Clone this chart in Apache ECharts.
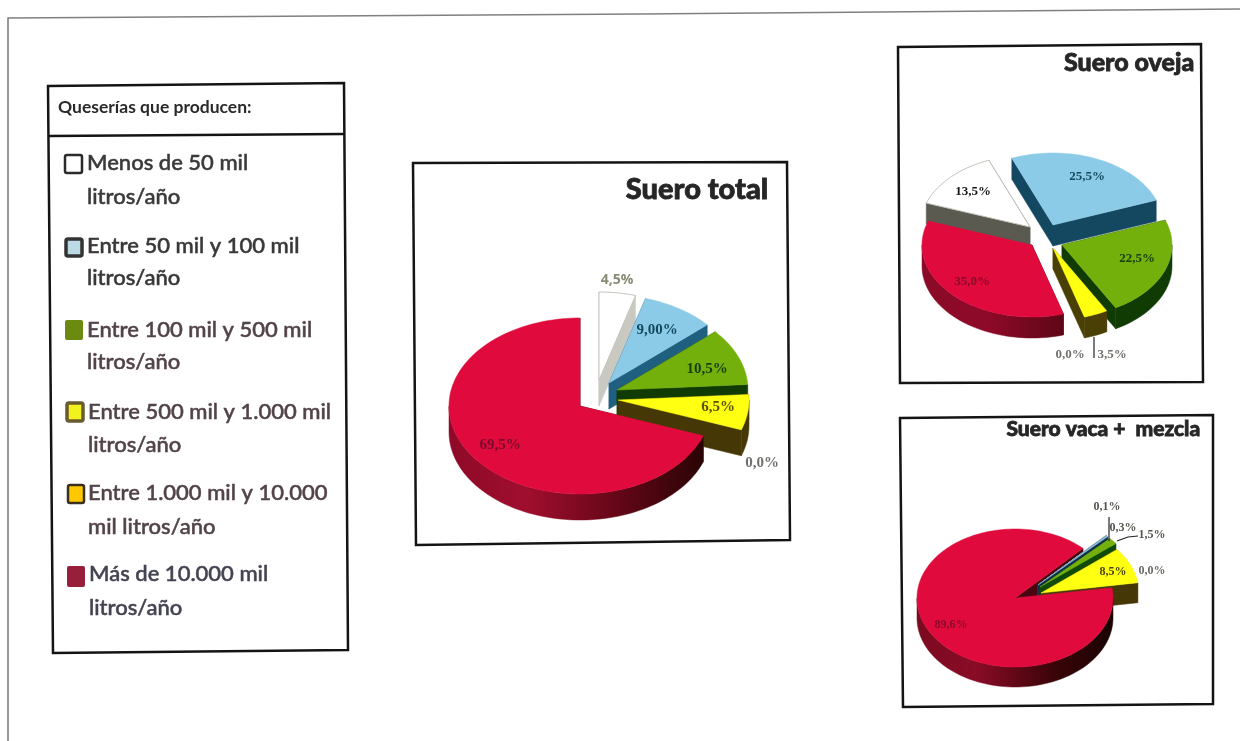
<!DOCTYPE html>
<html lang="es">
<head>
<meta charset="utf-8">
<title>Suero por tamaño de quesería</title>
<script src="https://cdn.jsdelivr.net/npm/echarts@6/dist/echarts.min.js"></script>
<style>
  html, body { margin: 0; padding: 0; background: #fff; }
  #chart { width: 1240px; height: 741px; }
</style>
</head>
<body>
<div id="chart"></div>
<script>
// Categories, in clockwise order around each pie
const categories = [
  ['Menos de 50 mil', 'litros/año'],
  ['Entre 50 mil y 100 mil', 'litros/año'],
  ['Entre 100 mil y 500 mil', 'litros/año'],
  ['Entre 500 mil y 1.000 mil', 'litros/año'],
  ['Entre 1.000 mil y 10.000', 'mil litros/año'],
  ['Más de 10.000 mil', 'litros/año']
];

// Share of whey per category (%)
const sueroTotal = [4.5, 9, 10.5, 6.5, 0, 69.5];
const sueroOveja = [13.5, 25.5, 22.5, 3.5, 0, 35];
const sueroVaca = [0.1, 0.3, 1.5, 8.5, 0, 89.6];

// Printed labels
const etiquetasTotal = ['4,5%', '9,00%', '10,5%', '6,5%', '0,0%', '69,5%'];
const etiquetasOveja = ['13,5%', '25,5%', '22,5%', '3,5%', '0,0%', '35,0%'];
const etiquetasVaca = ['0,1%', '0,3%', '1,5%', '8,5%', '0,0%', '89,6%'];

const TOP = ['#ffffff', '#8ccbe8', '#74b00c', '#ffff12', '#ffc800', '#e00a3c'];
const DEG = Math.PI / 180;

// Layout of each pie: ellipse, rim height, first slice angle, slice offsets and label placement
const pies = [
  {
    values: sueroTotal, labels: etiquetasTotal,
    cx: 580, cy: 406, rx: 131, ry: 88, depth: 26, start: 0,
    offsets: [[19, -26], [29, -23], [37, -16], [38, -6], [38, -6], [0, 0]],
    wall: ['#c9c9c2', '#1f5f80', '#103c04', '#463806', '#463806', null],
    redRim: ['#8e0a28', '#a00e2e', '#5a0614', '#240404'],
    font: 'bold 15px "Liberation Serif"',
    text: [
      { x: 617, y: 280, color: '#8a8c74', font: 'bold 14px "Open Sans"' },
      { x: 657, y: 330, color: '#134a60' },
      { x: 707, y: 369, color: '#16400a' },
      { x: 718, y: 407, color: '#5a5008' },
      { x: 762, y: 463, color: '#70706c' },
      { x: 500, y: 445, color: '#7a0a2c' }
    ],
    leaders: []
  },
  {
    values: sueroOveja, labels: etiquetasOveja,
    cx: 1032, cy: 245, rx: 110, ry: 72, depth: 21, start: -70.6,
    offsets: [[-2, -18], [21, -20], [30, 0], [21, 3], [21, 3], [0, 0]],
    wall: ['#5a5a50', '#134860', '#103c04', '#4a4006', '#4a4006', null],
    redRim: ['#8a0a28', '#8e0a28', '#560612', '#2a0404'],
    font: 'bold 13px "Liberation Serif"',
    text: [
      { x: 973, y: 192, color: '#151515' },
      { x: 1087, y: 177, color: '#134a60' },
      { x: 1137, y: 259, color: '#16400a' },
      { x: 1112, y: 355, color: '#70706c' },
      { x: 1070, y: 355, color: '#70706c' },
      { x: 972, y: 282, color: '#8a0a2c' }
    ],
    leaders: [[[1094, 337], [1094, 358]]]
  },
  {
    values: sueroVaca, labels: etiquetasVaca,
    cx: 1015, cy: 598, rx: 98, ry: 69, depth: 20, start: 44,
    offsets: [[23, -13], [23, -13], [25, -11], [26, -5], [26, -5], [0, 0]],
    wall: ['#555555', '#10304a', '#0f4a08', '#463806', '#463806', null],
    redRim: ['#7a0a20', '#8a0c26', '#3a0408', '#1a0404'],
    font: 'bold 12px "Liberation Serif"',
    text: [
      { x: 1107, y: 507, color: '#55554f' },
      { x: 1123, y: 528, color: '#55554f' },
      { x: 1152, y: 535, color: '#55554f' },
      { x: 1113, y: 572, color: '#4a4208' },
      { x: 1152, y: 571, color: '#6a6a64' },
      { x: 951, y: 625, color: '#8a0a2c' }
    ],
    leaders: [[[1109, 517], [1109, 541]], [[1117, 541], [1128, 537], [1138, 536]]]
  }
];

function arcPoints(cx, cy, rx, ry, a0, a1) {
  const pts = [];
  const n = Math.max(1, Math.ceil(Math.abs(a1 - a0) / 2));
  for (let i = 0; i <= n; i++) {
    const a = (a0 + (a1 - a0) * i / n) * DEG;
    pts.push([cx + rx * Math.sin(a), cy - ry * Math.cos(a)]);
  }
  return pts;
}

function poly(points, fill, stroke, lineWidth) {
  return {
    type: 'polygon', silent: true,
    shape: { points },
    style: { fill, stroke: stroke || fill, lineWidth: lineWidth === undefined ? 0.5 : lineWidth }
  };
}

// Drawing passes of a slice
const PASS_ALL = 0, PASS_CUTS = 1, PASS_BODY = 2;

// Builds one custom series drawing a tilted pie from its value array
function pieSeries(pie) {
  const total = pie.values.reduce((s, v) => s + v, 0);
  const largest = pie.values.indexOf(Math.max(...pie.values));
  let acc = pie.start;
  const slices = pie.values.map((v, i) => {
    const a0 = acc;
    acc += v / total * 360;
    return { i, v, a0, a1: acc };
  });
  // Small slices paint from the back towards the viewer, in between the
  // cut faces of the main body and its rim and top
  const small = slices
    .filter(s => s.v > 0 && s.i !== largest)
    .map(s => {
      const mid = (s.a0 + s.a1) / 2 * DEG;
      return { s, key: pie.offsets[s.i][1] - pie.ry * Math.cos(mid) * 0.6 };
    })
    .sort((p, q) => p.key - q.key)
    .map(p => p.s);
  const row = (s, pass) => [s.v, s.a0, s.a1, s.i, pass];

  return {
    type: 'custom',
    coordinateSystem: 'none',
    silent: true,
    animation: false,
    data: [
      row(slices[largest], PASS_CUTS),
      ...small.map(s => row(s, PASS_ALL)),
      row(slices[largest], PASS_BODY)
    ],
    renderItem(params, api) {
      const a0 = api.value(1);
      const a1 = api.value(2);
      const i = api.value(3);
      const pass = api.value(4);
      const [dx, dy] = pie.offsets[i];
      const cx = pie.cx + dx;
      const cy = pie.cy + dy;
      const { rx, ry, depth } = pie;
      const isRed = i === 5;
      const children = [];

      // Flat faces along both cuts
      if (pass !== PASS_BODY) {
        const cutFill = isRed ? '#4a0610' : pie.wall[i];
        [a0, a1].forEach(a => {
          const edge = arcPoints(cx, cy, rx, ry, a, a)[0];
          children.push(poly(
            [[cx, cy], edge, [edge[0], edge[1] + depth], [cx, cy + depth]], cutFill
          ));
        });
      }

      if (pass !== PASS_CUTS) {
        // Curved rim, only the part that faces the viewer
        const rimStops = isRed
          ? pie.redRim.map((color, k) => ({ offset: [0, 0.3, 0.7, 1][k], color }))
          : [{ offset: 0, color: pie.wall[i] }, { offset: 1, color: pie.wall[i] }];
        const rimFill = new echarts.graphic.LinearGradient(cx - rx, 0, cx + rx, 0, rimStops, true);
        for (let k = -1; k <= 1; k++) {
          const lo = Math.max(a0, 90 + 360 * k);
          const hi = Math.min(a1, 270 + 360 * k);
          if (hi > lo) {
            const upper = arcPoints(cx, cy, rx, ry, lo, hi);
            const lower = upper.map(p => [p[0], p[1] + depth]).reverse();
            children.push(poly(upper.concat(lower), rimFill));
          }
        }

        // Top face
        const outline = i === 0 ? '#c4c4bc' : TOP[i];
        children.push(poly([[cx, cy]].concat(arcPoints(cx, cy, rx, ry, a0, a1)), TOP[i], outline, i === 0 ? 1 : 0.5));
      }
      return { type: 'group', children };
    }
  };
}

// Value labels and their leader lines, kept above every slice
function labelSeries(pie) {
  return {
    type: 'custom',
    coordinateSystem: 'none',
    silent: true,
    animation: false,
    z: 5,
    data: pie.values.map((v, i) => [v, i]),
    renderItem(params, api) {
      const i = api.value(1);
      const t = pie.text[i];
      const children = [{
        type: 'text', silent: true,
        style: {
          x: t.x, y: t.y, text: pie.labels[i], fill: t.color,
          font: t.font || pie.font, align: 'center', verticalAlign: 'middle'
        }
      }];
      if (params.dataIndex === 0) {
        pie.leaders.forEach(points => children.push({
          type: 'polyline', silent: true,
          shape: { points },
          style: { stroke: '#222222', lineWidth: 1.2, fill: null }
        }));
      }
      return { type: 'group', children };
    }
  };
}

// Four corners of a ruled box
function box(tl, tr, br, bl) {
  return {
    type: 'polygon', silent: true,
    shape: { points: [tl, tr, br, bl] },
    style: { fill: 'transparent', stroke: '#141414', lineWidth: 2.5 }
  };
}

const legendRows = [
  { sw: [65, 155, 17, 18], fill: '#ffffff', border: '#2b2b2b', bw: 2.5, x: 87, y: [163, 197], color: '#3a3a3a' },
  { sw: [66, 239, 16, 17], fill: '#bcd9e6', border: '#333333', bw: 3.5, x: 87, y: [246, 278], color: '#383838' },
  { sw: [65, 320, 18, 20], fill: '#6a8a10', border: '#6a8a10', bw: 0, x: 87, y: [330, 362], color: '#524349' },
  { sw: [67, 403, 16, 18], fill: '#f2f21e', border: '#6a5a30', bw: 3.5, x: 88, y: [412, 445], color: '#524349' },
  { sw: [68, 485, 16, 18], fill: '#ffc800', border: '#3a3020', bw: 2.5, x: 88, y: [493, 527], color: '#524349' },
  { sw: [67, 566, 18, 21], fill: '#96203c', border: '#96203c', bw: 0, x: 89, y: [574, 608], color: '#434352' }
];

const graphicElements = [
  // Sheet edges
  { type: 'polyline', silent: true, shape: { points: [[8, 741], [8, 18], [640, 14], [1240, 9]] },
    style: { stroke: '#808080', lineWidth: 1.6, fill: null } },
  // Panels
  box([48, 86], [344, 83], [348, 650], [53, 653]),
  { type: 'line', silent: true, shape: { x1: 48, y1: 136, x2: 344, y2: 134 },
    style: { stroke: '#141414', lineWidth: 2.5 } },
  box([413, 163], [787, 162], [790, 540], [416, 545]),
  box([898, 47], [1201, 44], [1203, 382], [900, 383]),
  box([900, 418], [1213, 415], [1213, 704], [903, 707]),
  { type: 'text', silent: true,
    style: { x: 58, y: 107, text: 'Queserías que producen:', fill: '#2a2a2a',
             font: 'bold 17.5px Lato', verticalAlign: 'middle' } }
];

legendRows.forEach((r, i) => {
  graphicElements.push({
    type: 'rect', silent: true,
    shape: { x: r.sw[0], y: r.sw[1], width: r.sw[2], height: r.sw[3], r: 2 },
    style: { fill: r.fill, stroke: r.bw ? r.border : null, lineWidth: r.bw }
  });
  categories[i].forEach((line, k) => {
    graphicElements.push({
      type: 'text', silent: true,
      style: { x: r.x, y: r.y[k], text: line, fill: r.color, stroke: r.color, lineWidth: 0.5,
               font: '500 22px Lato', verticalAlign: 'middle' }
    });
  });
});

const titleBase = {
  color: '#262626', fontFamily: 'Lato', fontWeight: 900,
  textBorderColor: '#262626', textBorderWidth: 0.8
};

const chart = echarts.init(document.getElementById('chart'), null, { renderer: 'canvas' });
chart.setOption({
  animation: false,
  backgroundColor: '#ffffff',
  tooltip: { show: false },
  title: [
    { text: 'Suero total', right: 1240 - 769, top: 175, padding: 0,
      textStyle: { ...titleBase, fontSize: 29 } },
    { text: 'Suero oveja', right: 1240 - 1195, top: 50, padding: 0,
      textStyle: { ...titleBase, fontSize: 25 } },
    { text: 'Suero vaca +  mezcla', right: 1240 - 1201, top: 419, padding: 0,
      textStyle: { ...titleBase, fontSize: 21 } }
  ],
  graphic: graphicElements,
  series: pies.flatMap(p => [pieSeries(p), labelSeries(p)])
});
</script>
</body>
</html>
